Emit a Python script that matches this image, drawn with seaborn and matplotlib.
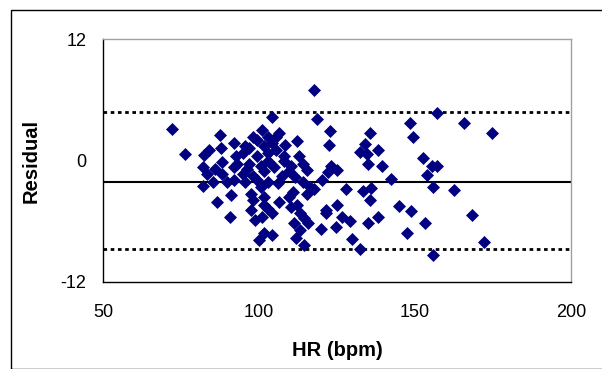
import numpy as np
import pandas as pd
import matplotlib
matplotlib.use("Agg")
import matplotlib.pyplot as plt
from matplotlib.patches import Rectangle
import seaborn as sns

# Residuals vs heart rate (Bland-Altman style)
hr = [72.0, 76.4, 117.7, 118.5, 122.9, 122.3, 104.2, 156.9, 148.3, 165.8,
      174.6, 149.3, 135.6, 138.2, 152.6, 157.0, 155.5, 153.8, 155.7, 162.6,
      142.4, 139.4, 144.9, 148.6, 147.5, 153.1, 168.3, 172.2, 155.7, 132.3,
      129.8, 138.2, 135.0, 135.5, 135.9, 133.5, 128.0, 134.0, 132.3, 134.5,
      135.1, 125.1, 123.1, 119.8, 124.6, 126.7, 129.1, 125.1, 121.6, 121.6,
      115.4, 117.7, 120.2, 122.0,
      87.4, 92.1, 87.9, 83.9, 82.5, 82.0, 83.3, 85.3, 82.0, 86.5,
      90.9, 90.6, 89.9, 91.9, 88.2, 92.5, 95.6, 98.0, 101.1, 102.9,
      106.5, 108.4, 112.2, 112.8, 114.0, 115.3, 110.3, 107.9, 105.4, 102.9,
      99.3, 96.8, 95.0, 98.0, 101.7, 104.8, 106.0, 102.9, 100.5, 97.4,
      98.0, 101.7, 101.7, 106.4, 109.7, 110.3, 112.2, 97.4, 98.6, 101.1,
      104.2, 102.9, 99.9, 101.7, 104.2, 112.0, 114.5, 113.2, 111.3, 114.5,
      115.7, 113.2, 107.3, 109.7, 111.6, 114.0, 116.5, 93.1, 96.8, 99.3,
      101.7, 104.2, 105.4, 107.9, 95.0, 91.9, 95.6, 99.3, 88.2, 85.8,
      102.9, 100.5, 96.2, 111.0]
residual = [3.1, 0.6, 7.0, 4.1, 2.9, 1.5, 4.3, 4.7, 3.7, 3.7,
            2.7, 2.3, 2.7, 1.0, 0.2, -0.5, -0.5, -1.4, -2.6, -2.9,
            -1.8, -0.5, -4.5, -5.0, -7.2, -6.2, -5.4, -8.1, -9.3, -8.7,
            -7.8, -5.6, -6.2, -3.9, -2.7, -3.0, -2.8, 1.6, 0.8, 0.6,
            -0.3, -0.9, -0.5, -6.8, -6.6, -5.6, -6.0, -4.4, -4.9, -5.2,
            -3.3, -2.8, -1.9, -1.1,
            2.5, 1.7, 1.2, 1.0, 0.5, -0.6, -1.3, -2.1, -2.5, -4.1,
            -3.4, -5.6, -2.1, -0.6, -0.1, 0.4, 1.4, 2.3, 3.0, 2.3,
            2.7, 1.5, 1.9, 0.4, -0.3, -0.9, -0.5, 0.0, 1.0, 0.7,
            0.4, -0.3, -1.3, -1.5, -1.0, -0.6, -2.2, -2.1, -2.6, -3.3,
            -3.9, -3.6, -4.4, -4.1, -3.6, -4.6, -4.4, -4.9, -5.9, -5.6,
            -5.2, -4.8, -7.9, -7.2, -7.4, -7.7, -8.4, -6.9, -6.2, -5.7,
            -6.2, -5.2, -1.5, -1.0, -1.6, -2.1, -2.6, -0.3, 1.2, 2.0,
            1.4, 1.7, 2.3, 0.4, 0.7, -1.9, -2.1, -1.9, -1.3, -0.8,
            0.0, -0.5, -0.8, -3.1]

mean_bias = -2.1
upper_limit = 4.8
lower_limit = -8.7

df = pd.DataFrame({"hr": hr, "residual": residual})

sns.set_style("white")
plt.rcParams["font.family"] = ["Liberation Sans", "DejaVu Sans"]
plt.rcParams["axes.unicode_minus"] = False
plt.rcParams["text.color"] = "black"
plt.rcParams["axes.labelcolor"] = "black"
plt.rcParams["xtick.color"] = "black"
plt.rcParams["ytick.color"] = "black"

fig = plt.figure(figsize=(6.02, 3.69), dpi=100)
ax = fig.add_axes([0.171, 0.236, 0.7775, 0.658])

# outer chart border
fig.patches.append(Rectangle((11 / 602, 0), 1.2, 1 - 10 / 369, transform=fig.transFigure,
                             fill=False, edgecolor="black", linewidth=1.0))

sns.scatterplot(data=df, x="hr", y="residual", marker="D", color="#000080",
                s=44, linewidth=0, ax=ax, legend=False, zorder=3)

ax.axhline(mean_bias, color="black", linewidth=1.5, zorder=2)
ax.axhline(upper_limit, color="black", linewidth=2, linestyle=(0, (1.3, 1.3)), zorder=2)
ax.axhline(lower_limit, color="black", linewidth=2, linestyle=(0, (1.3, 1.3)), zorder=2)

ax.set_xlim(50, 200)
ax.set_ylim(-12, 12)
ax.set_xticks([50, 100, 150, 200])
ax.set_yticks([-12, 0, 12])
ax.tick_params(axis="both", direction="out", length=4, width=1, color="black",
               labelsize=13)
ax.tick_params(axis="x", pad=12)
ax.tick_params(axis="y", pad=8)

for side in ["top", "right"]:
    ax.spines[side].set_color("#a0a0a0")
    ax.spines[side].set_linewidth(1)
for side in ["left", "bottom"]:
    ax.spines[side].set_color("black")
    ax.spines[side].set_linewidth(1)

ax.set_xlabel("HR (bpm)", fontsize=14.5, fontweight="bold", labelpad=14)
ax.set_ylabel("Residual", fontsize=14.5, fontweight="bold", labelpad=14)

fig.savefig("out.png", dpi=100, facecolor="white")
